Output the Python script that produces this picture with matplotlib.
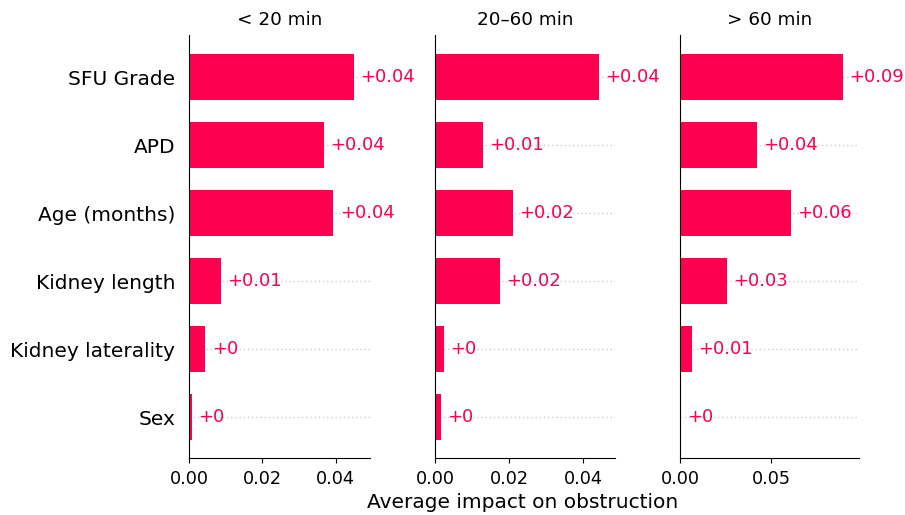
import matplotlib.pyplot as plt
import numpy as np

# Mean |SHAP| per feature for each obstruction time window
features = ['SFU Grade', 'APD', 'Age (months)', 'Kidney length', 'Kidney laterality', 'Sex']
windows = ['< 20 min', '20\u201360 min', '> 60 min']
impact_lt20 = [0.0449, 0.0368, 0.0394, 0.0087, 0.0045, 0.0009]
impact_20_60 = [0.0441, 0.0130, 0.0210, 0.0175, 0.0025, 0.0016]
impact_gt60 = [0.0890, 0.0420, 0.0607, 0.0256, 0.0067, 0.0004]
xticks = [[0, 0.02, 0.04], [0, 0.02, 0.04], [0, 0.05]]

red = '#ff0051'


def fmt(v):
    r = round(v, 2)
    return '+0' if r == 0 else f'+{r:.2f}'


fig = plt.figure(figsize=(9.05, 5.15), dpi=100)
lefts = [189 / 905, 435 / 905, 680 / 905]
widths = [181 / 905, 180 / 905, 179 / 905]
bottom, height = 57 / 515, 423 / 515

y = np.arange(len(features))
for i, vals in enumerate([impact_lt20, impact_20_60, impact_gt60]):
    ax = fig.add_axes([lefts[i], bottom, widths[i], height])
    for yy in y:
        ax.axhline(yy, color='#cccccc', lw=1, ls=(0, (1, 2)), zorder=-1)
    ax.barh(y, vals, height=0.67, color=red, zorder=2)
    for yy, v in zip(y, vals):
        ax.annotate(fmt(v), (v, yy), xytext=(4.5, 0), textcoords='offset points',
                    va='center', ha='left', color=red, fontsize=13)
    ax.set_xlim(0, max(vals) * 1.1)
    ax.set_ylim(len(features) - 0.4, -0.62)
    ax.set_xticks(xticks[i])
    ax.set_xticklabels([f'{t:.2f}' for t in xticks[i]], fontsize=12.7)
    ax.tick_params(axis='x', pad=5)
    ax.set_yticks(y)
    if i == 0:
        ax.set_yticklabels(features, fontsize=14.5)
    else:
        ax.set_yticklabels([])
    ax.tick_params(axis='y', length=0, pad=10)
    ax.spines['top'].set_visible(False)
    ax.spines['right'].set_visible(False)
    ax.set_title(windows[i], fontsize=13.2, pad=7)

fig.text(523 / 905, 1 - 503 / 515, 'Average impact on obstruction',
         ha='center', va='center', fontsize=14.5)

fig.savefig('out.png', dpi=100)
